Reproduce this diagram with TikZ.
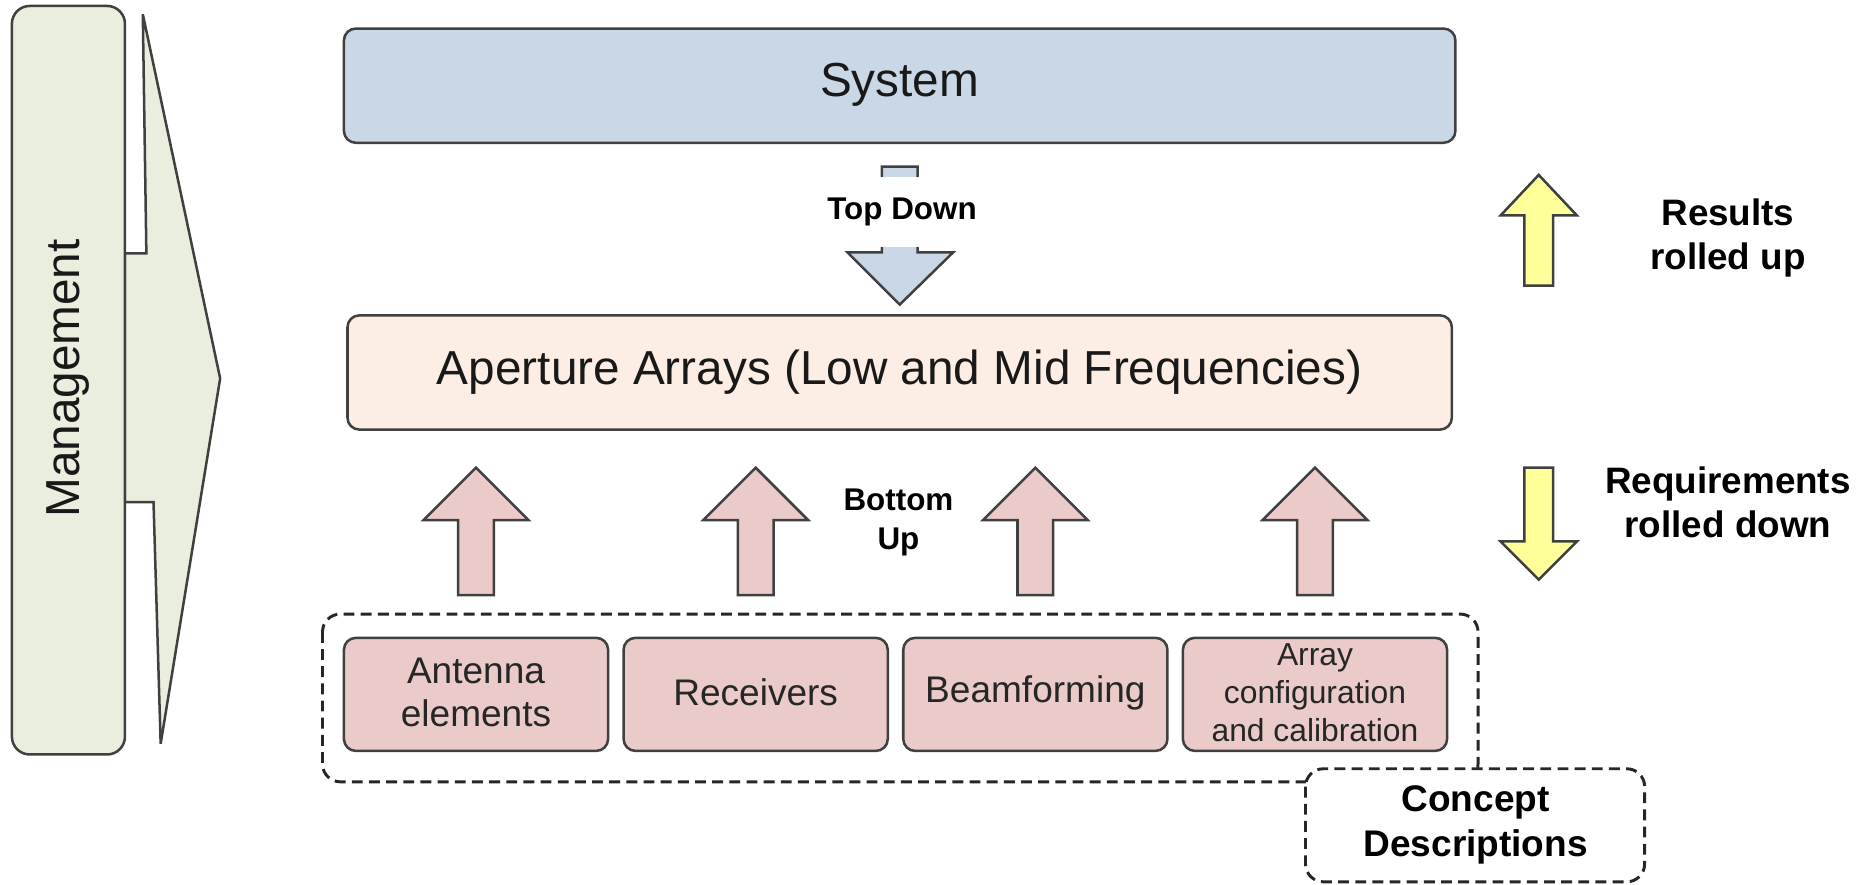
\documentclass[tikz,border=0pt]{standalone}
\usepackage{fontspec}
\setmainfont{Liberation Sans}

\definecolor{mgmtgreen}{HTML}{EAEEDE}
\definecolor{sysblue}{HTML}{C9D7E6}
\definecolor{aperpeach}{HTML}{FCEEE4}
\definecolor{partpink}{HTML}{EBCACA}
\definecolor{rollyellow}{HTML}{FFFF99}
\definecolor{edgegray}{HTML}{404040}

\tikzset{
  box/.style={draw=edgegray, line width=0.6pt, rounded corners=0.1cm},
  blockarrow/.style={draw=edgegray, line width=0.6pt, line join=miter},
  dashbox/.style={draw=black!85, line width=0.7pt, dash pattern=on 2.6pt off 1.5pt, rounded corners=0.15cm},
  bigtext/.style={text=black!90, font=\fontsize{11.4}{13.7}\selectfont},
  parttext/.style={text=black!85, align=center, font=\fontsize{8.85}{10.2}\selectfont},
  boldtext/.style={align=center, font=\bfseries\fontsize{8.8}{10.4}\selectfont}
}

\begin{document}
\begin{tikzpicture}[x=0.01cm, y=-0.01cm]
\useasboundingbox (0,0) rectangle (1568,743);

% Seta de gestao
\draw[blockarrow, fill=mgmtgreen] (105,213) -- (123,213) -- (120,12) -- (185,318) -- (135,625) -- (129,422) -- (105,422) -- cycle;

% Caixa "Management"
\draw[box, fill=mgmtgreen, rounded corners=0.15cm] (10,5) rectangle (105,634);
\node[bigtext, rotate=90] (mgmt) at (57,318) {Management};

% Caixa do sistema
\draw[box, fill=sysblue] (289,24) rectangle (1223,120);
\node[bigtext] (system) at (756,71) {System};

% Seta "Top Down"
\draw[blockarrow, fill=sysblue] (741,140) -- (771,140) -- (771,212) -- (801,212) -- (756,256) -- (712,212) -- (741,212) -- cycle;
\node[boldtext, fill=white, inner xsep=1pt, inner ysep=5pt, font=\bfseries\fontsize{7.5}{9}\selectfont] (topdown) at (758,178) {Top Down};

% Caixa das aperture arrays
\draw[box, fill=aperpeach] (292,265) rectangle (1220,361);
\node[bigtext] (aperture) at (756,313) {Aperture Arrays (Low and Mid Frequencies)};

% Setas "Bottom Up"
\draw[blockarrow, fill=partpink] (400,393) -- ++(44,44) -- ++(-29,0) -- ++(0,63) -- ++(-30,0) -- ++(0,-63) -- ++(-29,0) -- cycle;
\draw[blockarrow, fill=partpink] (635,393) -- ++(44,44) -- ++(-29,0) -- ++(0,63) -- ++(-30,0) -- ++(0,-63) -- ++(-29,0) -- cycle;
\draw[blockarrow, fill=partpink] (870,393) -- ++(44,44) -- ++(-29,0) -- ++(0,63) -- ++(-30,0) -- ++(0,-63) -- ++(-29,0) -- cycle;
\draw[blockarrow, fill=partpink] (1105,393) -- ++(44,44) -- ++(-29,0) -- ++(0,63) -- ++(-30,0) -- ++(0,-63) -- ++(-29,0) -- cycle;
\node[boldtext, font=\bfseries\fontsize{7.5}{9.4}\selectfont] (bottomup) at (755,439) {Bottom\\Up};

% Caixa tracejada das partes
\draw[dashbox] (271,516) rectangle (1242,657);

% Partes
\draw[box, fill=partpink] (289,536) rectangle (511,631);
\node[parttext] (antenna) at (400,582) {Antenna\\elements};
\draw[box, fill=partpink] (524,536) rectangle (746,631);
\node[parttext] (receivers) at (635,582) {Receivers};
\draw[box, fill=partpink] (759,536) rectangle (981,631);
\node[parttext] (beamforming) at (870,582) {Beamforming};
\draw[box, fill=partpink] (994,536) rectangle (1216,631);
\node[parttext, font=\fontsize{7.6}{9.1}\selectfont] (arraycal) at (1105,582) {Array\\configuration\\and calibration};

% Legenda "Concept Descriptions"
\draw[dashbox, fill=white] (1097,646) rectangle (1382,741);
\node[boldtext, font=\bfseries\fontsize{8.85}{10.8}\selectfont] (concept) at (1240,693) {Concept\\Descriptions};

% Setas amarelas
\draw[blockarrow, fill=rollyellow] (1293,147) -- ++(32,34) -- ++(-20,0) -- ++(0,59) -- ++(-24,0) -- ++(0,-59) -- ++(-20,0) -- cycle;
\node[boldtext] (results) at (1452,200) {Results\\rolled up};

\draw[blockarrow, fill=rollyellow] (1281,393) -- (1305,393) -- (1305,455) -- (1325,455) -- (1293,487) -- (1261,455) -- (1281,455) -- cycle;
\node[boldtext] (requirements) at (1452,422) {Requirements\\rolled down};

\end{tikzpicture}
\end{document}
